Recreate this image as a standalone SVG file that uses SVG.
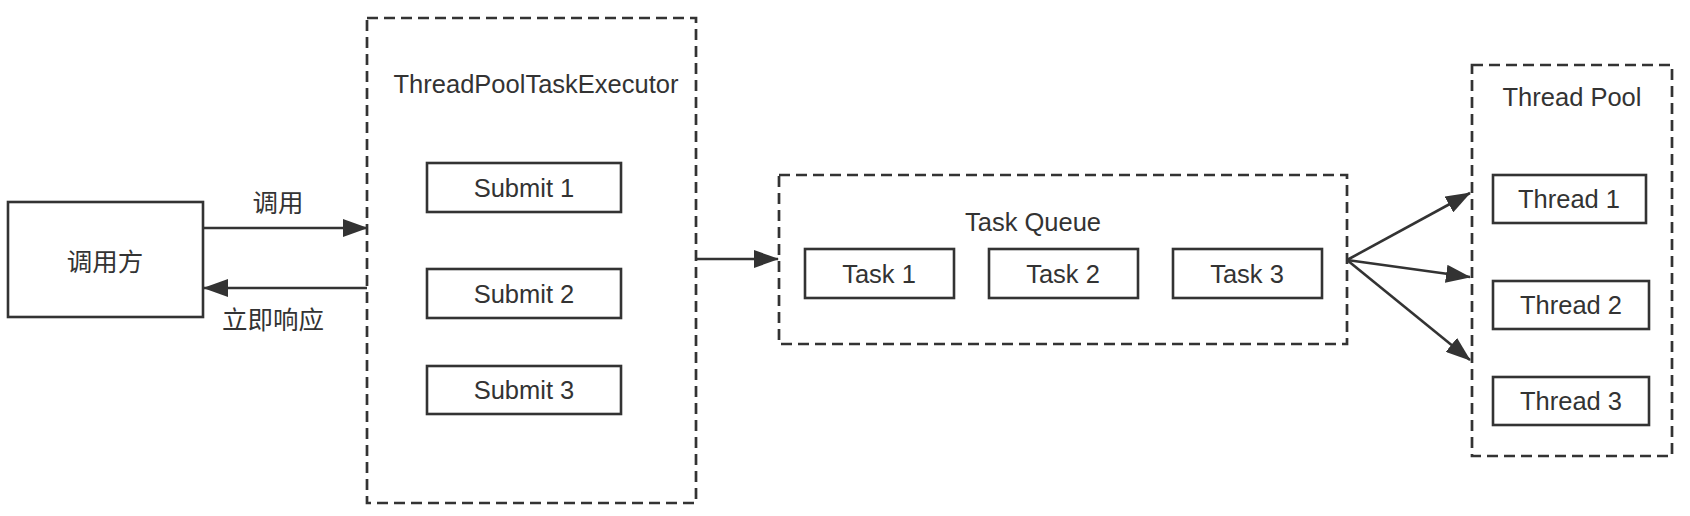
<svg xmlns="http://www.w3.org/2000/svg" width="1690" height="516" viewBox="0 0 1690 516">
<style>
.box{fill:#fff;stroke:#333;stroke-width:2.6}
.grp{fill:none;stroke:#333;stroke-width:2.7;stroke-dasharray:11 6}
.t{font-family:"Liberation Sans","Noto Sans CJK SC",sans-serif;font-size:25.5px;fill:#333;text-anchor:middle}
.c{stroke:#333;stroke-width:2.6;fill:none}
</style>
<defs>
<marker id="ah" markerUnits="userSpaceOnUse" markerWidth="26" markerHeight="18" refX="24" refY="9" orient="auto">
<path d="M0,0 L25,9 L0,18 Z" fill="#333"/>
</marker>
</defs>
<rect width="1690" height="516" fill="#fff"/>
<g id="caller">
<rect class="box" x="8" y="202" width="195" height="115"/>
<text class="t" x="105" y="271">调用方</text>
</g>
<g id="executor">
<rect class="grp" x="367" y="18" width="329" height="485"/>
<text class="t" x="536" y="93">ThreadPoolTaskExecutor</text>
</g>
<g id="submit1">
<rect class="box" x="427" y="163" width="194" height="49"/>
<text class="t" x="524" y="197">Submit 1</text>
</g>
<g id="submit2">
<rect class="box" x="427" y="269" width="194" height="49"/>
<text class="t" x="524" y="303">Submit 2</text>
</g>
<g id="submit3">
<rect class="box" x="427" y="366" width="194" height="48"/>
<text class="t" x="524" y="399">Submit 3</text>
</g>
<g id="taskqueue">
<rect class="grp" x="779" y="175" width="568" height="169"/>
<text class="t" x="1033" y="231">Task Queue</text>
</g>
<g id="task1">
<rect class="box" x="805" y="249" width="149" height="49"/>
<text class="t" x="879" y="283">Task 1</text>
</g>
<g id="task2">
<rect class="box" x="989" y="249" width="149" height="49"/>
<text class="t" x="1063" y="283">Task 2</text>
</g>
<g id="task3">
<rect class="box" x="1173" y="249" width="149" height="49"/>
<text class="t" x="1247" y="283">Task 3</text>
</g>
<g id="threadpool">
<rect class="grp" x="1472" y="65" width="200" height="391"/>
<text class="t" x="1572" y="106">Thread Pool</text>
</g>
<g id="thread1">
<rect class="box" x="1493" y="175" width="153" height="48"/>
<text class="t" x="1569" y="208">Thread 1</text>
</g>
<g id="thread2">
<rect class="box" x="1493" y="281" width="156" height="48"/>
<text class="t" x="1571" y="314">Thread 2</text>
</g>
<g id="thread3">
<rect class="box" x="1493" y="377" width="156" height="48"/>
<text class="t" x="1571" y="410">Thread 3</text>
</g>
<g id="connectors">
<line class="c" x1="203" y1="228" x2="367" y2="228" marker-end="url(#ah)"/>
<text class="t" x="278" y="212">调用</text>
<line class="c" x1="367" y1="288" x2="204" y2="288" marker-end="url(#ah)"/>
<text class="t" x="273" y="329">立即响应</text>
<line class="c" x1="696" y1="259" x2="778" y2="259" marker-end="url(#ah)"/>
<line class="c" x1="1347" y1="260" x2="1470" y2="193" marker-end="url(#ah)"/>
<line class="c" x1="1347" y1="260" x2="1470" y2="277" marker-end="url(#ah)"/>
<line class="c" x1="1347" y1="260" x2="1470" y2="360" marker-end="url(#ah)"/>
</g>
</svg>
